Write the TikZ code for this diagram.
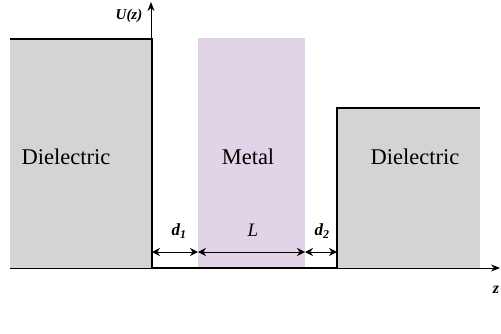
\documentclass[tikz,border=0pt]{standalone}
\usepackage{fontspec}
\setmainfont{Liberation Serif}
\newfontfamily\tnr{Liberation Serif}
\usetikzlibrary{arrows.meta}
\definecolor{dielgray}{RGB}{212,212,212}
\definecolor{metalpurple}{RGB}{225,212,231}
\tikzset{
  wall/.style={line width=2.4pt, black, line join=miter},
  axis/.style={line width=0.8pt, black, -{Stealth[length=9pt,width=7pt]}},
  dim/.style={line width=1pt, black, {Stealth[length=8pt,width=8pt]}-{Stealth[length=8pt,width=8pt]}},
  lbl/.style={font=\tnr\fontsize{22.5}{26}\selectfont, text=black, inner sep=0pt},
  dlbl/.style={font=\tnr\fontsize{17}{20}\selectfont\bfseries\itshape, inner sep=0pt},
}
\begin{document}
\begin{tikzpicture}[x=1pt,y=-1pt]
\useasboundingbox (0,0) rectangle (501,333);
% regions
\fill[dielgray] (10,39) rectangle (151,268);
\fill[metalpurple] (198,38) rectangle (305,268);
\fill[dielgray] (338,108) rectangle (480,268);
% coordinates
\coordinate (o) at (151,268);
\coordinate (ytop) at (151,2);
\coordinate (xl) at (10,268);
\coordinate (xr) at (500,268);
\coordinate (a1) at (152,252);
\coordinate (a2) at (198,252);
\coordinate (a3) at (305,252);
\coordinate (a4) at (337,252);
% axes
\draw[axis] (o) -- (ytop);
\draw[axis] (xl) -- (xr);
% potential profile
\draw[wall] (10,39) -- (152,39) -- (152,268) -- (337,268) -- (337,108) -- (480,108);
% dimension arrows
\draw[dim] (a1) -- (a2);
\draw[dim] (a2) -- (a3);
\draw[dim] (a3) -- (a4);
% labels
\node[lbl] (diel1) at (66,157) {Dielectric};
\node[lbl] (metal) at (248,157) {Metal};
\node[lbl] (diel2) at (415,157) {Dielectric};
\node[dlbl] (d1) at (179,231) {d\textsubscript{1}};
\node[font=\tnr\fontsize{19}{22}\selectfont\itshape, inner sep=0pt] (L) at (253,230) {L};
\node[dlbl] (d2) at (322,231) {d\textsubscript{2}};
\node[font=\tnr\fontsize{15}{18}\selectfont\bfseries\itshape, inner sep=0pt] (U) at (129,16) {U(z)};
\node[font=\tnr\fontsize{16}{18}\selectfont\bfseries\itshape, inner sep=0pt] (z) at (496,290) {z};
\end{tikzpicture}
\end{document}
